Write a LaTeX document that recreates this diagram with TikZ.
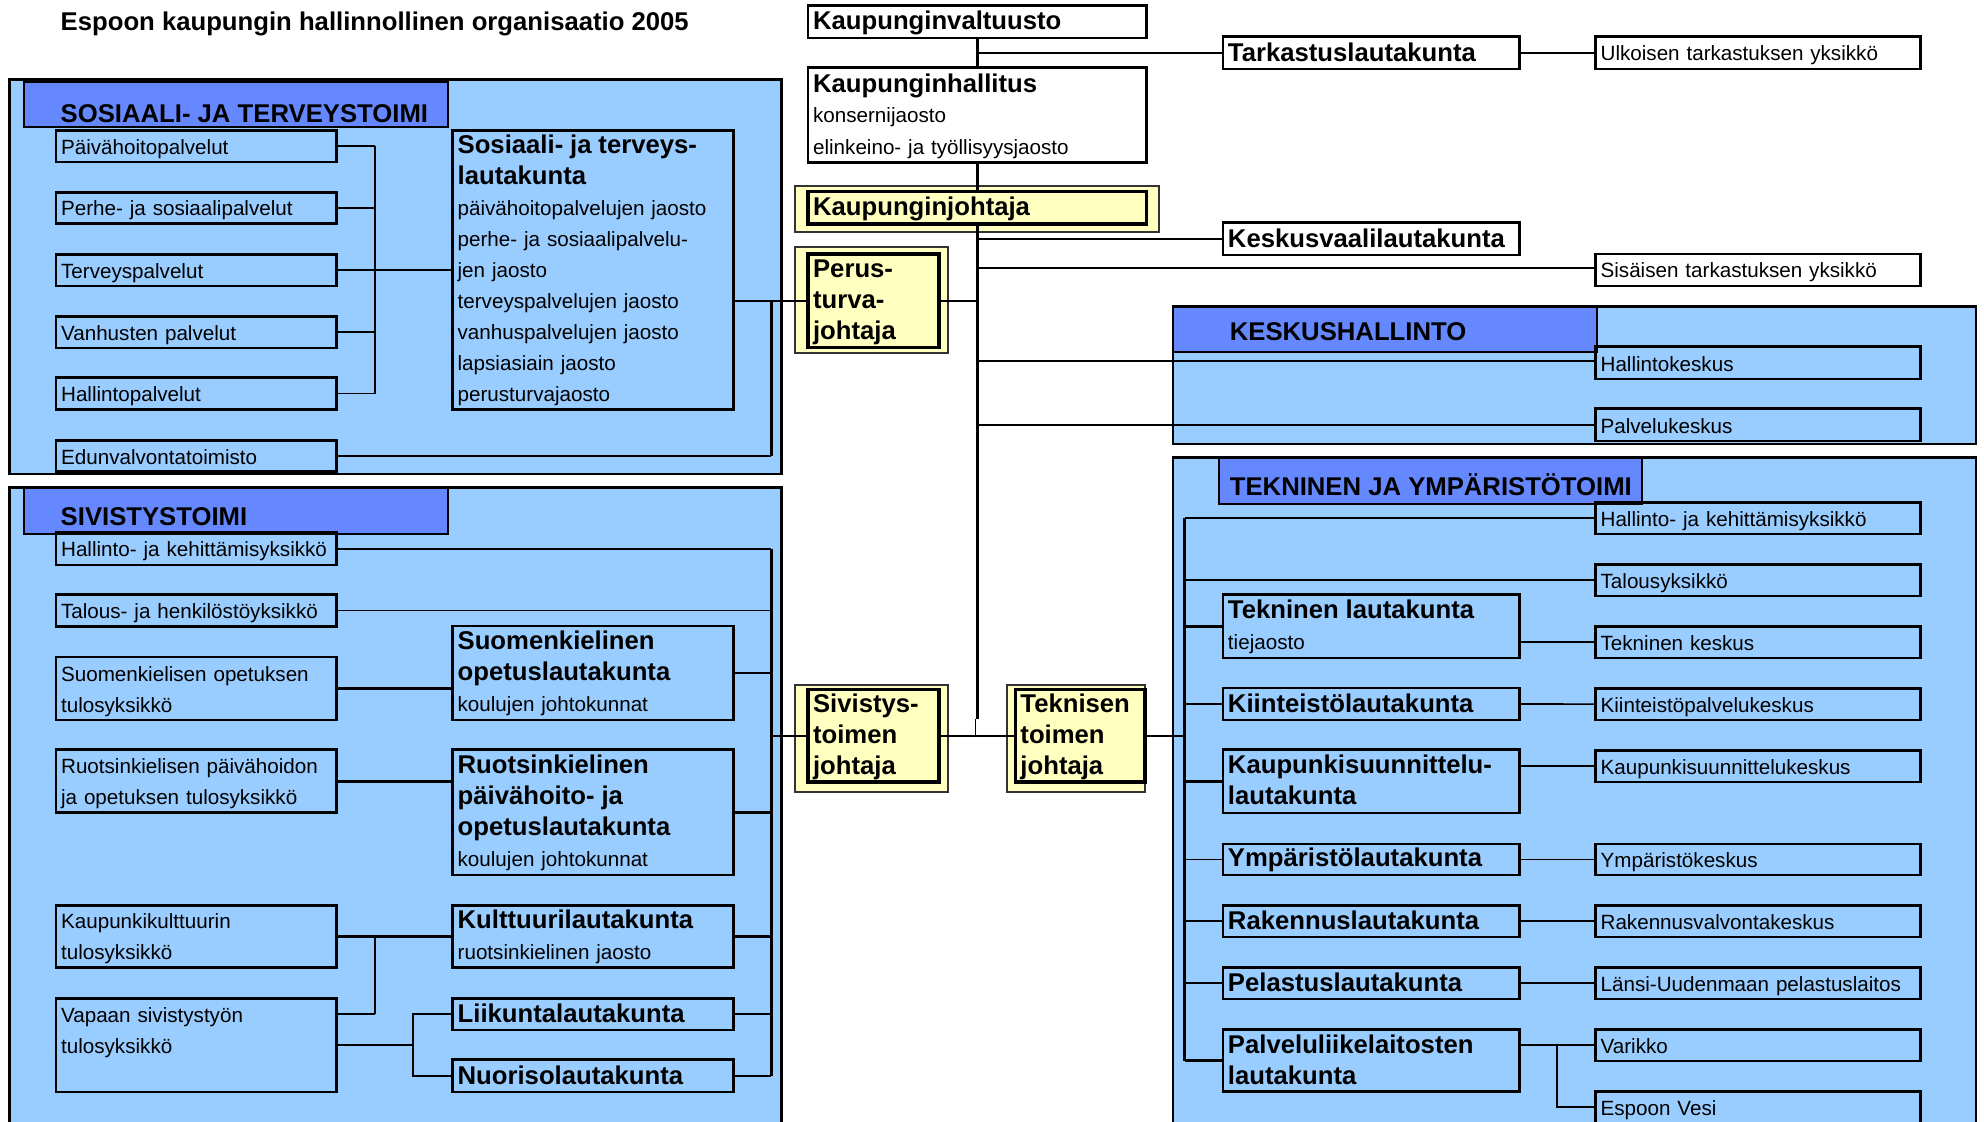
\documentclass[tikz,border=0pt]{standalone}
\usepackage{fontspec}
\setmainfont{Liberation Sans}
\pgfdeclarelayer{bg}\pgfdeclarelayer{ln}\pgfsetlayers{bg,ln,main}
\definecolor{panelc}{HTML}{99CCFF}
\definecolor{headc}{HTML}{6688FF}
\definecolor{yelc}{HTML}{FFFFC0}
\newcommand\rf{\fontsize{16.3pt}{24.5pt}\selectfont}
\newcommand\bff{\fontsize{20.3pt}{24.5pt}\selectfont\bfseries}
% \bx{style}{name}{x1}{y1}{x2}{y2}{text}
\newcommand\bx[7]{%
  \pgfmathsetmacro\bxw{#5-#3}%
  \pgfmathsetmacro\bxh{#6-#4}%
  \pgfmathsetmacro\bxt{#5-#3-8}%
  \node[#1, anchor=north west, minimum width=\bxw pt, minimum height=\bxh pt, text width=\bxt pt] (#2) at (#3,#4) {#7};}
\begin{document}
\begin{tikzpicture}[x=1pt,y=-1pt,
  box/.style={draw, line width=2.2pt, inner xsep=4pt, inner ysep=0pt, outer sep=0pt, align=left, font=\rf,
    execute at begin node={\rule{0pt}{16pt}}, execute at end node={\rule[-3pt]{0pt}{3pt}}},
  wbox/.style={box, fill=white},
  bbox/.style={box, font=\bff},
  wbbox/.style={bbox, fill=white},
  ybox/.style={box, font=\bff, fill=yelc, line width=2.8pt},
  yframe/.style={draw=black!80, line width=1.6pt, fill=yelc, outer sep=0pt, inner sep=0pt},
  panel/.style={draw, line width=2pt, fill=panelc, outer sep=0pt, inner sep=0pt},
  head/.style={draw, line width=1.6pt, fill=headc, outer sep=0pt, inner sep=0pt},
  htext/.style={font=\bff, anchor=base west, inner sep=0pt, outer sep=0pt},
  conn/.style={line width=1.3pt},
  tconn/.style={line width=2.3pt},
  busl/.style={line width=2pt},
  trunk/.style={line width=2.6pt}]
\useasboundingbox (0,0) rectangle (1568,886);
\begin{pgfonlayer}{bg}
  \fill[white] (0,0) rectangle (1568,886);
  \bx{panel}{pSOS}{7.3}{63}{617.7}{374.5}{}
  \bx{head}{hSOS}{19}{64.5}{354}{100}{}
  \node[htext] (tSOS) at (48,97) {SOSIAALI- JA TERVEYSTOIMI};
  \bx{panel}{pSIV}{7.3}{385.2}{617.7}{895}{}
  \bx{head}{hSIV}{19}{385.5}{354}{422}{}
  \node[htext] (tSIV) at (48,415.5) {SIVISTYSTOIMI};
  \bx{panel}{pKES}{927}{242.4}{1561.7}{351}{}
  \bx{head}{hKES}{927}{242.4}{1262}{278}{}
  \node[htext] (tKES) at (972,269.3) {KESKUSHALLINTO};
  \bx{panel}{pTEK}{927}{361.7}{1561.7}{895}{}
  \bx{head}{hTEK}{963.5}{362}{1297.7}{398.6}{}
  \node[htext] (tTEK) at (972,391.3) {TEKNINEN JA YMPÄRISTÖTOIMI};
  \node[htext] (title) at (48,24.3) {Espoon kaupungin hallinnollinen organisaatio 2005};
  % yellow frames
  \bx{yframe}{KJo}{628.5}{146.8}{916}{183}{}
  \bx{yframe}{PTo}{628.5}{195}{749}{279}{}
  \bx{yframe}{SJo}{628.5}{541}{749}{626}{}
  \bx{yframe}{TJo}{796}{541}{904.7}{626}{}
\end{pgfonlayer}

% ---- centre column
\bx{wbbox}{KV}{638.6}{4.5}{906}{30}{Kaupunginvaltuusto}
\bx{wbox}{KH}{638.6}{53.5}{906}{128.3}{{\bff Kaupunginhallitus}\\konsernijaosto\\elinkeino- ja työllisyysjaosto}
\bx{ybox}{KJ}{638.6}{151.5}{906}{177}{Kaupunginjohtaja}
\bx{ybox}{PTJ}{638.6}{200.7}{742}{274.8}{Perus-\\turva-\\johtaja}
\bx{ybox}{SJ}{638.6}{545}{742}{618}{Sivistys-\\toimen\\johtaja}
\bx{ybox}{TJ}{802.5}{545}{905}{618}{Teknisen\\toimen\\johtaja}
\draw[line width=3.6pt] (TJ.north east) -- (TJ.south east);

% ---- top right
\bx{wbbox}{TL}{966.5}{29}{1201}{54.5}{Tarkastuslautakunta}
\bx{wbox}{UT}{1261}{29}{1517.6}{54.5}{Ulkoisen tarkastuksen yksikkö}
\bx{wbbox}{KVL}{966.5}{176}{1201}{201.5}{Keskusvaalilautakunta}
\bx{wbox}{SIS}{1261}{200.7}{1517.6}{226}{Sisäisen tarkastuksen yksikkö}
\bx{box}{HK}{1261}{274}{1517.6}{299.5}{Hallintokeskus}
\bx{box}{PK}{1261}{323}{1517.6}{348.5}{Palvelukeskus}

% ---- Sosiaali- ja terveystoimi
\bx{box}{PH}{44.3}{103}{266}{128}{Päivähoitopalvelut}
\bx{box}{PS}{44.3}{152}{266}{176.5}{Perhe- ja sosiaalipalvelut}
\bx{box}{TP}{44.3}{201}{266}{226}{Terveyspalvelut}
\bx{box}{VP}{44.3}{250}{266}{275}{Vanhusten palvelut}
\bx{box}{HP}{44.3}{298.5}{266}{323.6}{Hallintopalvelut}
\bx{box}{EV}{44.3}{348}{266}{372.5}{Edunvalvontatoimisto}
\bx{box}{SOT}{357.7}{103}{580}{323.6}{{\bff Sosiaali- ja terveys-}\\{\bff lautakunta}\\päivähoitopalvelujen jaosto\\perhe- ja sosiaalipalvelu-\\jen jaosto\\terveyspalvelujen jaosto\\vanhuspalvelujen jaosto\\lapsiasiain jaosto\\perusturvajaosto}

% ---- Sivistystoimi
\bx{box}{SH}{44.3}{420.7}{266}{446.6}{Hallinto- ja kehittämisyksikkö}
\bx{box}{STH}{44.3}{469.8}{266}{495}{Talous- ja henkilöstöyksikkö}
\bx{box}{SUT}{44.3}{519.3}{266}{569}{Suomenkielisen opetuksen\\tulosyksikkö}
\bx{box}{RUT}{44.3}{592.6}{266}{642}{Ruotsinkielisen päivähoidon\\ja opetuksen tulosyksikkö}
\bx{box}{KKT}{44.3}{715.4}{266}{764.5}{Kaupunkikulttuurin\\tulosyksikkö}
\bx{box}{VST}{44.3}{789}{266}{863}{Vapaan sivistystyön\\tulosyksikkö\\\mbox{}}
\bx{box}{SOL}{357.7}{494.7}{580}{569}{{\bff Suomenkielinen}\\{\bff opetuslautakunta}\\koulujen johtokunnat}
\bx{box}{ROL}{357.7}{592.6}{580}{691.5}{{\bff Ruotsinkielinen}\\{\bff päivähoito- ja}\\{\bff opetuslautakunta}\\koulujen johtokunnat}
\bx{box}{KUL}{357.7}{715.4}{580}{764.5}{{\bff Kulttuurilautakunta}\\ruotsinkielinen jaosto}
\bx{bbox}{LI}{357.7}{789}{580}{814}{Liikuntalautakunta}
\bx{bbox}{NU}{357.7}{837.5}{580}{863}{Nuorisolautakunta}

% ---- Tekninen ja ympäristötoimi
\bx{box}{THK}{1261}{397}{1517.6}{422}{Hallinto- ja kehittämisyksikkö}
\bx{box}{TTA}{1261}{446}{1517.6}{471}{Talousyksikkö}
\bx{box}{TK}{1261}{495}{1517.6}{520}{Tekninen keskus}
\bx{box}{KPK}{1261}{544}{1517.6}{569}{Kiinteistöpalvelukeskus}
\bx{box}{KSK}{1261}{593}{1517.6}{618}{Kaupunkisuunnittelukeskus}
\bx{box}{YK}{1261}{667}{1517.6}{691.5}{Ympäristökeskus}
\bx{box}{RVK}{1261}{715.5}{1517.6}{740.5}{Rakennusvalvontakeskus}
\bx{box}{LUP}{1261}{764.5}{1517.6}{789.5}{Länsi-Uudenmaan pelastuslaitos}
\bx{box}{VA}{1261}{813.6}{1517.6}{838.5}{Varikko}
\bx{box}{EVE}{1261}{862.4}{1517.6}{887.6}{Espoon Vesi}
\bx{box}{TLK}{966.5}{470}{1201}{520}{{\bff Tekninen lautakunta}\\tiejaosto}
\bx{bbox}{KL}{966.5}{543.7}{1201}{569}{Kiinteistölautakunta}
\bx{bbox}{KSL}{966.5}{592.4}{1201}{642.5}{Kaupunkisuunnittelu-\\lautakunta}
\bx{bbox}{YL}{966.5}{667}{1201}{691.5}{Ympäristölautakunta}
\bx{bbox}{RL}{966.5}{715.5}{1201}{740.5}{Rakennuslautakunta}
\bx{bbox}{PL}{966.5}{764.5}{1201}{789.5}{Pelastuslautakunta}
\bx{bbox}{PLL}{966.5}{813.6}{1201}{862.9}{Palveluliikelaitosten\\lautakunta}

% ---- coordinates for bus lines
\coordinate (sbr) at (296.4,0);
\coordinate (lbr) at (326.6,0);
\coordinate (sbus) at (609.7,0);
\coordinate (tbus) at (936.2,0);
\coordinate (pbr) at (1230.5,0);
\coordinate (tend) at (772.3,568);
\coordinate (tstub) at (771,568);
\coordinate (tjoin) at (771,581.5);

\begin{pgfonlayer}{ln}
  % centre trunk
  \draw[trunk] (KV.south) -- (tend);
  \draw[conn] (tstub) -- (tjoin);
  \draw[conn] (KV.south |- TL.west) -- (TL.west);
  \draw[conn] (TL.east) -- (UT.west);
  \draw[conn] (KV.south |- KVL.west) -- (KVL.west);
  \draw[conn] (KV.south |- 0,211.6) -- (SIS.west |- 0,211.6);
  \draw[conn] (PTJ.east) -- (PTJ.east -| KV.south);
  \draw[conn] (KV.south |- 0,285.5) -- (HK.west |- 0,285.5);
  \draw[conn] (KV.south |- PK.west) -- (PK.west);
  \draw[conn] (SJ.east) -- (TJ.west);
  % Sosiaali- ja terveystoimi
  \foreach \n in {PH,PS,TP,VP,HP} {\draw[conn] (\n.east) -- (\n.east -| sbr);}
  \draw[busl] (PH.east -| sbr) -- (HP.east -| sbr);
  \draw[conn] (TP.east -| sbr) -- (TP.east -| SOT.west);
  \draw[conn] (SOT.east |- PTJ.west) -- (PTJ.west);
  \draw[busl] (PTJ.west -| sbus) -- (EV.east -| sbus);
  \draw[conn] (EV.east) -- (EV.east -| sbus);
  % Sivistystoimi
  \draw[conn] (SH.east) -- (SH.east -| sbus);
  \draw[conn] (STH.east) -- (STH.east -| sbus);
  \draw[busl] (SH.east -| sbus) -- (NU.east -| sbus);
  \draw[conn] (SOL.east) -- (SOL.east -| sbus);
  \draw[tconn] (ROL.east) -- (ROL.east -| sbus);
  \draw[tconn] (KUL.east) -- (KUL.east -| sbus);
  \draw[conn] (LI.east) -- (LI.east -| sbus);
  \draw[conn] (NU.east) -- (NU.east -| sbus);
  \draw[conn] (SJ.west -| sbus) -- (SJ.west);
  \draw[tconn] (SUT.east) -- (SUT.east -| SOL.west);
  \draw[tconn] (RUT.east) -- (RUT.east -| ROL.west);
  \draw[tconn] (KKT.east) -- (KKT.east -| KUL.west);
  \draw[busl] (KKT.east -| sbr) -- (LI.west -| sbr);
  \draw[conn] (VST.east |- LI.west) -- (LI.west -| sbr);
  \draw[conn] (VST.east) -- (VST.east -| lbr);
  \draw[conn] (LI.west) -- (LI.west -| lbr) -- (NU.west -| lbr) -- (NU.west);
  % Tekninen ja ympäristötoimi
  \draw[conn] (THK.west) -- (THK.west -| tbus);
  \draw[busl] (THK.west -| tbus) -- (PLL.west -| tbus);
  \draw[conn] (TTA.west) -- (TTA.west -| tbus);
  \draw[tconn] (TLK.west) -- (TLK.west -| tbus);
  \draw[conn] (KL.west) -- (KL.west -| tbus);
  \draw[tconn] (KSL.west) -- (KSL.west -| tbus);
  \draw[conn] (YL.west) -- (YL.west -| tbus);
  \draw[conn] (RL.west) -- (RL.west -| tbus);
  \draw[conn] (PL.west) -- (PL.west -| tbus);
  \draw[tconn] (PLL.west) -- (PLL.west -| tbus);
  \draw[conn] (TJ.east) -- (TJ.east -| tbus);
  \draw[conn] (TLK.east |- TK.west) -- (TK.west);
  \draw[conn] (KL.east) -- (KPK.west);
  \draw[conn] (KSL.east |- KSK.west) -- (KSK.west);
  \draw[conn] (YL.east) -- (YK.west);
  \draw[conn] (RL.east) -- (RVK.west);
  \draw[conn] (PL.east) -- (LUP.west);
  \draw[conn] (PLL.east |- VA.west) -- (VA.west);
  \draw[conn] (VA.west -| pbr) -- (EVE.west -| pbr) -- (EVE.west);
\end{pgfonlayer}
\end{tikzpicture}
\end{document}
